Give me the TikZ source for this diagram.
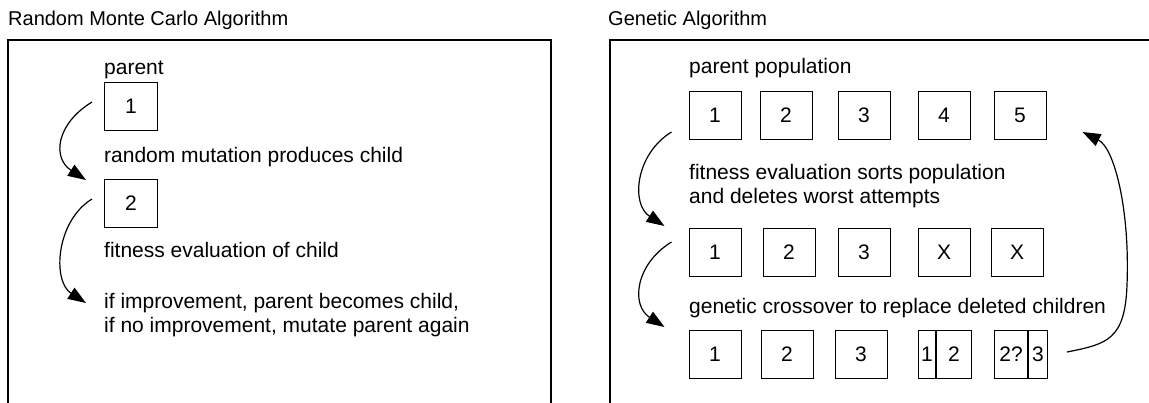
\documentclass[tikz,border=0pt]{standalone}
\usepackage{fontspec}
\setmainfont{Liberation Sans}
\usetikzlibrary{arrows.meta}
\begin{document}
\begin{tikzpicture}[x=1pt,y=-1pt,
  frame/.style={line width=1.4pt},
  cell/.style={draw, line width=1pt, minimum width=52pt, minimum height=48pt, inner sep=0pt, font=\fontsize{21}{25}\selectfont},
  half/.style={draw, line width=1pt, minimum height=48pt, inner sep=0pt, font=\fontsize{21}{25}\selectfont},
  lbl/.style={anchor=west, inner sep=0pt, font=\fontsize{21}{24}\selectfont, align=left},
  ttl/.style={anchor=base west, inner sep=0pt, font=\fontsize{20}{24}\selectfont},
  arr/.style={line width=1.2pt, -{Triangle[length=18pt,width=13pt]}}]
\useasboundingbox (0,0) rectangle (1149,402);
% titles
\node[ttl] (tl) at (8,25) {Random Monte Carlo Algorithm};
\node[ttl] (tr) at (608,25) {Genetic Algorithm};
% frames
\draw[frame] (8,404) -- (8,40) -- (551,40) -- (551,404);
\draw[frame] (610,404) -- (610,40) -- (1151,40);
% left panel
\node[lbl] (par) at (104,70) {parent};
\node[cell, minimum width=53pt] (b1) at (131,106) {1};
\node[lbl] (t1) at (104,157) {random mutation produces child};
\node[cell, minimum width=53pt] (b2) at (131,203) {2};
\node[lbl] (t2) at (104,250) {fitness evaluation of child};
\node[lbl] (t3) at (104,315) {if improvement, parent becomes child,\\if no improvement, mutate parent again};
\coordinate (a1s) at ([xshift=-12pt,yshift=4pt]b1.west);
\coordinate (a1e) at ([xshift=-18pt,yshift=23pt]b2.west);
\draw[arr] (a1s) .. controls +(-36,22) and +(-34,-22) .. (a1e);
\coordinate (a2s) at ([xshift=-12pt,yshift=4pt]b2.west);
\coordinate (a2e) at ([xshift=-18pt,yshift=12pt]t3.west);
\draw[arr] (a2s) .. controls +(-36,22) and +(-34,-22) .. (a2e);
% right panel
\node[lbl] (pp) at (689,68) {parent population};
\foreach \n/\x/\t in {1/715/1,2/786/2,3/864/3,4/944/4,5/1020/5}{
  \node[cell] (r1c\n) at (\x,115) {\t};
}
\node[lbl] (t4) at (689,186) {fitness evaluation sorts population\\and deletes worst attempts};
\foreach \n/\x/\t in {1/715/1,2/789/2,3/864/3,4/944/X,5/1017/X}{
  \node[cell] (r2c\n) at (\x,252) {\t};
}
\node[lbl] (t5) at (689,308) {genetic crossover to replace deleted children};
\foreach \n/\x/\t in {1/715/1,2/787/2,3/861/3}{
  \node[cell] (r3c\n) at (\x,354) {\t};
}
\node[half, minimum width=17pt, anchor=west] (r3c4a) at (918,354) {1};
\node[half, minimum width=35pt, anchor=west] (r3c4b) at (r3c4a.east) {2};
\node[half, minimum width=33pt, anchor=west] (r3c5a) at (994,354) {2?};
\node[half, minimum width=19pt, anchor=west] (r3c5b) at (r3c5a.east) {3};
\coordinate (a3s) at ([xshift=-17pt,yshift=-17pt]r1c1.west);
\coordinate (a3e) at ([xshift=-24pt,yshift=26pt]r2c1.west);
\draw[arr] (a3s) .. controls +(-36,22) and +(-34,-22) .. (a3e);
\coordinate (a4s) at ([xshift=-17pt,yshift=10pt]r2c1.west);
\coordinate (a4e) at ([xshift=-24pt,yshift=27pt]r3c1.west);
\draw[arr] (a4s) .. controls +(-36,22) and +(-34,-22) .. (a4e);
\coordinate (a5s) at ([xshift=19pt,yshift=2pt]r3c5b.east);
\coordinate (a5e) at ([xshift=36pt,yshift=-17pt]r1c5.east);
\draw[arr] (a5s) .. controls +(40,-8) and +(-2,55) .. (1127,285)
  .. controls +(3,-75) and +(32,16) .. (a5e);
\end{tikzpicture}
\end{document}
